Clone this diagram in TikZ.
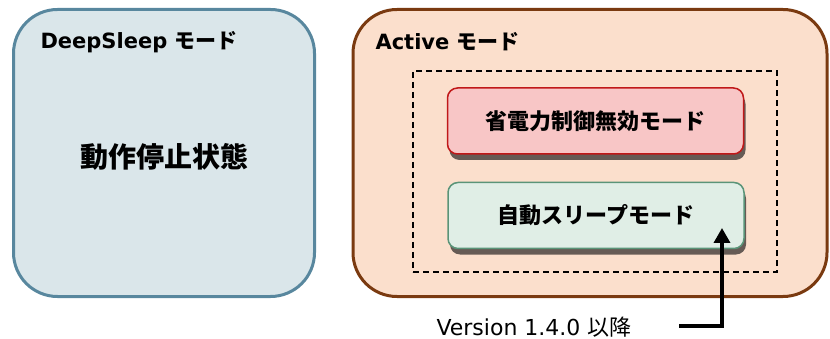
\documentclass[tikz,border=0pt]{standalone}
\usepackage{fontspec}
\setmainfont{DejaVu Sans}
\newfontfamily\jp{Noto Sans CJK JP}
\usetikzlibrary{arrows.meta,shadows}

\definecolor{sleepline}{HTML}{58879E}
\definecolor{sleepfill}{HTML}{DAE6EA}
\definecolor{activeline}{HTML}{7A3A10}
\definecolor{activefill}{HTML}{FBDFCC}
\definecolor{offline}{HTML}{C01818}
\definecolor{offfill}{HTML}{F8C6C6}
\definecolor{autoline}{HTML}{5A9478}
\definecolor{autofill}{HTML}{E0EEE6}
\definecolor{shadowgray}{HTML}{665B55}

\begin{document}
\begin{tikzpicture}[x=1pt,y=-1pt,
    modebox/.style={draw, rectangle, rounded corners=44pt, line width=3pt},
    subbox/.style={draw, rectangle, rounded corners=10pt, line width=1.5pt,
        minimum width=296pt, minimum height=66pt,
        font=\jp\bfseries\fontsize{22}{26}\selectfont,
        drop shadow={shadow xshift=2pt, shadow yshift=-6pt, fill=shadowgray, opacity=1}},
    modetitle/.style={anchor=west, font=\bfseries\fontsize{21}{25}\selectfont}]
    \useasboundingbox (0,0) rectangle (830,339);

    \node[modebox, draw=sleepline, fill=sleepfill, minimum width=301pt, minimum height=287pt] (deep) at (164,153) {};
    \node[modebox, draw=activeline, fill=activefill, minimum width=474pt, minimum height=287pt] (active) at (590,153) {};

    \node[modetitle] (deeptitle) at (37,42) {DeepSleep {\jp モード}};
    \node[modetitle] (activetitle) at (372,42) {Active {\jp モード}};
    \node[font=\jp\bfseries\fontsize{28}{32}\selectfont] (halt) at (164,157) {動作停止状態};

    \node[draw, rectangle, dash pattern=on 6pt off 4pt, line width=1.3pt, minimum width=364pt, minimum height=201pt] (group) at (595,171.5) {};
    \node[subbox, draw=offline, fill=offfill] (nosave) at (595.5,121) {省電力制御無効モード};
    \node[subbox, draw=autoline, fill=autofill] (autosleep) at (596,215.5) {自動スリープモード};

    \node[anchor=west, font=\fontsize{22}{26}\selectfont] (ver) at (433,327) {Version 1.4.0 {\jp 以降}};
    \coordinate (tail) at (679,326);
    \coordinate (tip) at (722,228);

    \draw[-{Triangle[width=16pt,length=15pt]}, line width=3.5pt] (tail) -| (tip);
\end{tikzpicture}
\end{document}
